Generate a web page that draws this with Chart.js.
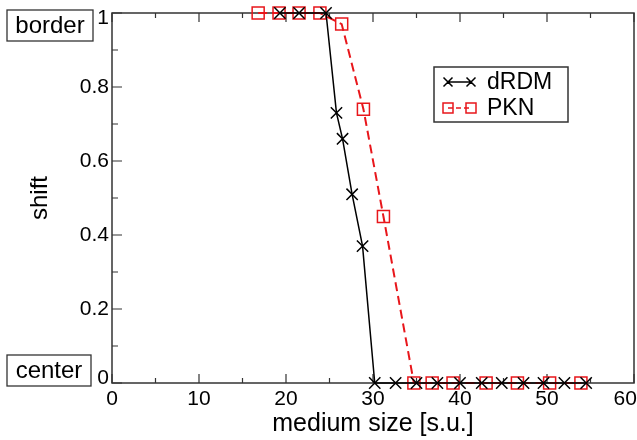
<!DOCTYPE html>
<html>
<head>
<meta charset="utf-8">
<script src="https://cdn.jsdelivr.net/npm/chart.js@4.4.0/dist/chart.umd.min.js"></script>
<style>
  html, body { margin: 0; padding: 0; background: #fff; }
</style>
</head>
<body>
<canvas id="chart" width="637" height="440"></canvas>
<script>
// values
const drdmSize = [19.3, 21.5, 24.6, 25.8, 26.5, 27.6, 28.8, 30.2, 32.6, 35.0, 37.4, 40.0, 42.5, 44.8, 47.3, 49.6, 52.0, 54.5];
const drdmShift = [1, 1, 1, 0.73, 0.66, 0.51, 0.37, 0, 0, 0, 0, 0, 0, 0, 0, 0, 0, 0];
const pknSize = [16.8, 19.2, 21.5, 23.9, 26.4, 28.9, 31.2, 34.7, 36.8, 39.2, 43.0, 46.6, 50.3, 53.9];
const pknShift = [1, 1, 1, 1, 0.97, 0.74, 0.45, 0, 0, 0, 0, 0, 0, 0];
const seriesNames = ['dRDM', 'PKN'];
const xTicks = [0, 10, 20, 30, 40, 50, 60];
const yTicks = [0, 0.2, 0.4, 0.6, 0.8, 1];
const sideLabels = ['border', 'center'];

const FONT = '"Liberation Sans", Arial, Helvetica, sans-serif';
const frameColor = '#333';

const toPoints = (xs, ys) => xs.map((x, i) => ({ x: x, y: ys[i] }));

// inward tick marks + full box frame
const frameAndTicks = {
    id: 'frameAndTicks',
    beforeDatasetsDraw(chart) {
        const { ctx, chartArea: a, scales: { x, y } } = chart;
        ctx.save();
        ctx.strokeStyle = frameColor;
        ctx.lineWidth = 1.5;
        ctx.strokeRect(a.left, a.top, a.right - a.left, a.bottom - a.top);
        ctx.lineWidth = 1.2;
        ctx.beginPath();
        for (let i = 0; i < xTicks.length; i++) {
            const px = x.getPixelForValue(xTicks[i]);
            ctx.moveTo(px, a.bottom); ctx.lineTo(px, a.bottom - 9);
            ctx.moveTo(px, a.top); ctx.lineTo(px, a.top + 9);
            if (i < xTicks.length - 1) {
                const mx = x.getPixelForValue((xTicks[i] + xTicks[i + 1]) / 2);
                ctx.moveTo(mx, a.bottom); ctx.lineTo(mx, a.bottom - 5);
                ctx.moveTo(mx, a.top); ctx.lineTo(mx, a.top + 5);
            }
        }
        for (let i = 0; i < yTicks.length; i++) {
            const py = y.getPixelForValue(yTicks[i]);
            ctx.moveTo(a.left, py); ctx.lineTo(a.left + 10, py);
            if (i < yTicks.length - 1) {
                const my = y.getPixelForValue((yTicks[i] + yTicks[i + 1]) / 2);
                ctx.moveTo(a.left, my); ctx.lineTo(a.left + 6, my);
            }
        }
        ctx.stroke();
        ctx.restore();
    }
};

const drawCross = (ctx, cx, cy, r) => {
    ctx.moveTo(cx - r, cy - r); ctx.lineTo(cx + r, cy + r);
    ctx.moveTo(cx - r, cy + r); ctx.lineTo(cx + r, cy - r);
};

// boxed legend inside the plot + the "border"/"center" tags
const boxedLabels = {
    id: 'boxedLabels',
    afterDraw(chart) {
        const { ctx } = chart;
        const ds = chart.data.datasets;
        ctx.save();
        ctx.strokeStyle = frameColor;
        ctx.lineWidth = 1.5;
        ctx.fillStyle = '#fff';
        ctx.fillRect(434, 67, 134, 55);
        ctx.strokeRect(434, 67, 134, 55);

        // dRDM row
        ctx.strokeStyle = ds[0].borderColor;
        ctx.lineWidth = 1.5;
        ctx.beginPath();
        ctx.moveTo(448, 82); ctx.lineTo(471, 82);
        drawCross(ctx, 448, 82, 4.5);
        drawCross(ctx, 471, 82, 4.5);
        ctx.stroke();

        // PKN row
        ctx.strokeStyle = ds[1].borderColor;
        ctx.beginPath();
        ctx.setLineDash([5, 3]);
        ctx.moveTo(448, 108); ctx.lineTo(471, 108);
        ctx.stroke();
        ctx.setLineDash([]);
        ctx.strokeRect(443, 103, 10, 10);
        ctx.strokeRect(466, 103, 10, 10);

        ctx.fillStyle = '#000';
        ctx.font = '23px ' + FONT;
        ctx.textBaseline = 'middle';
        ctx.textAlign = 'left';
        ctx.fillText(seriesNames[0], 487, 83);
        ctx.fillText(seriesNames[1], 487, 109);

        // side tags
        ctx.strokeStyle = frameColor;
        ctx.lineWidth = 1.3;
        ctx.strokeRect(7, 10, 86, 31);
        ctx.strokeRect(7, 355, 84, 31);
        ctx.font = '24px ' + FONT;
        ctx.textAlign = 'center';
        ctx.fillText(sideLabels[0], 50, 26);
        ctx.fillText(sideLabels[1], 49, 371);
        ctx.restore();
    }
};

new Chart(document.getElementById('chart'), {
    type: 'scatter',
    data: {
        datasets: [{
            label: seriesNames[0],
            data: toPoints(drdmSize, drdmShift),
            showLine: true,
            borderColor: '#000',
            borderWidth: 1.5,
            pointStyle: 'crossRot',
            pointRadius: 8,
            pointBorderWidth: 1.5,
            pointBorderColor: '#000',
            clip: false
        }, {
            label: seriesNames[1],
            data: toPoints(pknSize, pknShift),
            showLine: true,
            borderColor: '#e8161b',
            borderWidth: 2,
            borderDash: [9, 5],
            pointStyle: 'rect',
            pointRadius: 8.5,
            pointBorderWidth: 1.5,
            pointBorderColor: '#e8161b',
            pointBackgroundColor: 'rgba(0,0,0,0)',
            clip: false
        }]
    },
    options: {
        responsive: false,
        animation: false,
        layout: { autoPadding: false, padding: { top: 13, right: 3, left: 0, bottom: 0 } },
        plugins: {
            legend: { display: false },
            tooltip: { enabled: false }
        },
        scales: {
            x: {
                type: 'linear',
                min: 0,
                max: 60,
                grid: { display: false, drawTicks: false },
                border: { display: false },
                afterBuildTicks: (s) => { s.ticks = xTicks.map(v => ({ value: v })); },
                afterFit: (s) => { s.height = 57; s.paddingLeft = 0; s.paddingRight = 0; },
                ticks: {
                    color: '#000',
                    padding: 4,
                    maxRotation: 0,
                    font: { size: 21, family: FONT },
                    callback: (v) => v === 60 ? '60   ' : String(v)
                },
                title: {
                    display: true,
                    text: 'medium size [s.u.]',
                    color: '#000',
                    font: { size: 25, family: FONT },
                    padding: { top: 0, bottom: 1 }
                }
            },
            y: {
                type: 'linear',
                min: 0,
                max: 1,
                grid: { display: false, drawTicks: false },
                border: { display: false },
                afterBuildTicks: (s) => { s.ticks = yTicks.map(v => ({ value: v })); },
                afterFit: (s) => { s.width = 112; s.paddingTop = 0; s.paddingBottom = 0; },
                ticks: {
                    color: '#000',
                    padding: 3,
                    // end labels sit inside the axis range, as in the original
                    font: (c) => ({
                        size: 21,
                        family: FONT,
                        lineHeight: (c.index === 0 || c.index === yTicks.length - 1) ? '10px' : 1.2
                    }),
                    callback: (v, i) => {
                        if (i === yTicks.length - 1) return ['', String(v)];
                        if (i === 0) return [String(v), ''];
                        return String(v);
                    }
                },
                title: {
                    display: true,
                    text: 'shift',
                    color: '#000',
                    font: { size: 24, family: FONT },
                    padding: { top: 26, bottom: 0 }
                }
            }
        }
    },
    plugins: [frameAndTicks, boxedLabels]
});
</script>
</body>
</html>
